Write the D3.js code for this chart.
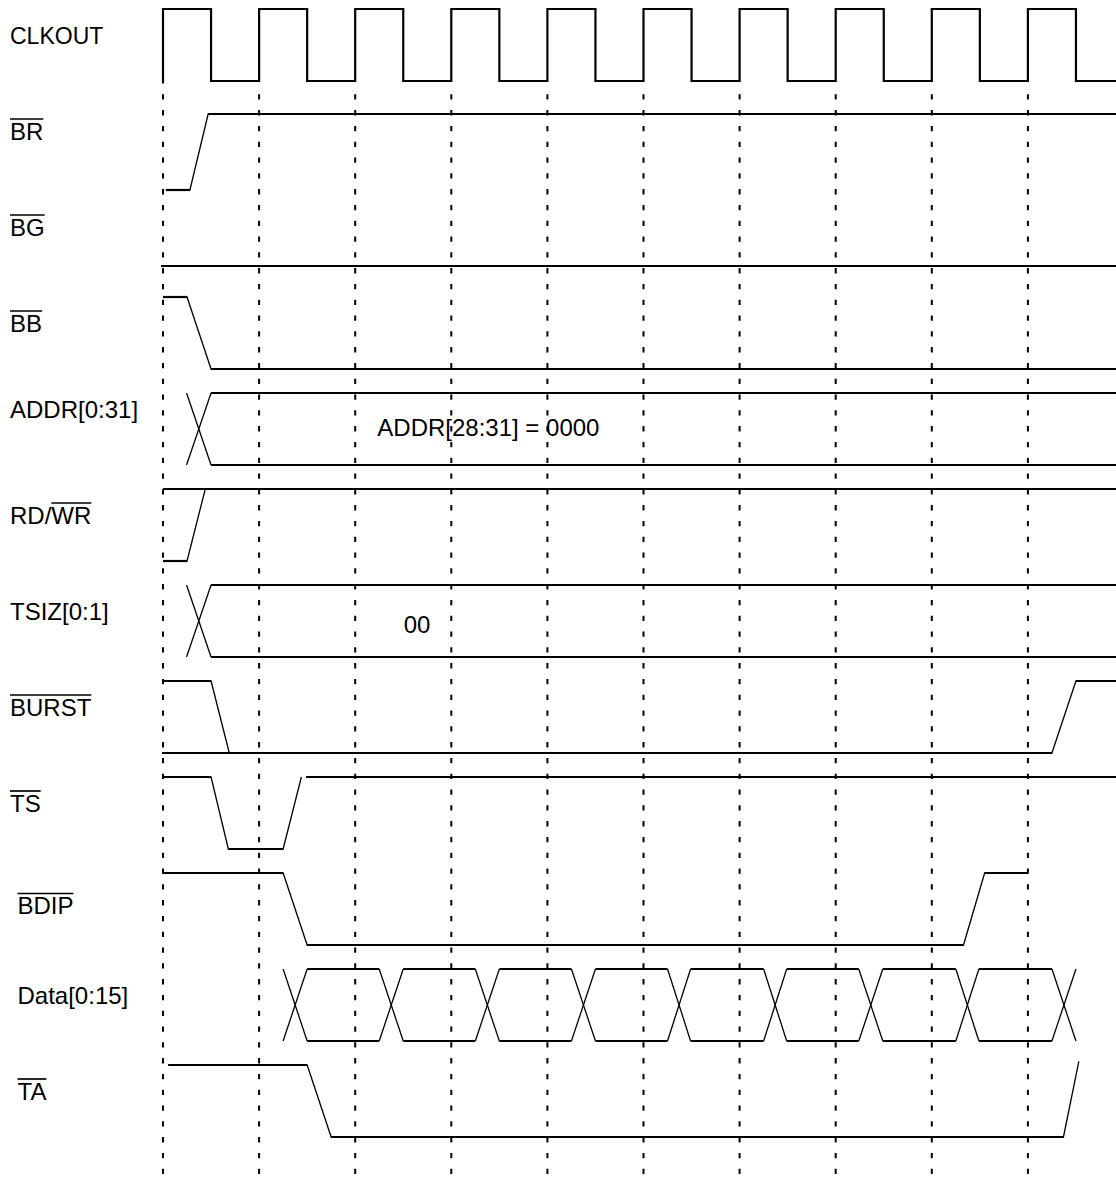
<!DOCTYPE html>
<html><head><meta charset="utf-8">
<script src="https://cdn.jsdelivr.net/npm/d3@7"></script>
<style>body{margin:0;background:#fff} svg{display:block}</style>
</head><body>
<svg id="c" width="1116" height="1177"></svg>
<script>
// ---------- DATA (time in clock cycles, level 1 = high, 0 = low) ----------
const signals = ["CLKOUT","BR","BG","BB","ADDR","RDWR","TSIZ","BURST","TS","BDIP","DATA","TA"];
const labelParts = [
  [{t:"CLKOUT",o:false}],
  [{t:"BR",o:true}],
  [{t:"BG",o:true}],
  [{t:"BB",o:true}],
  [{t:"ADDR[0:31]",o:false}],
  [{t:"RD/",o:false},{t:"WR",o:true}],
  [{t:"TSIZ[0:1]",o:false}],
  [{t:"BURST",o:true}],
  [{t:"TS",o:true}],
  [{t:"BDIP",o:true}],
  [{t:"Data[0:15]",o:false}],
  [{t:"TA",o:true}]
];
const clockRise = [0,1,2,3,4,5,6,7,8,9];
const clockFall = [0.5,1.5,2.5,3.5,4.5,5.5,6.5,7.5,8.5,9.5];
const clockEnd = 10;

const brWave    = [[[0.03,0],[0.28,0],[0.47,1],[10,1]]];
const bgWave    = [[[-0.02,0],[10,0]]];
const bbWave    = [[[0,1],[0.25,1],[0.5,0],[10,0]]];
const rdwrWave  = [[[0,1],[10,1]],[[0,0],[0.25,0],[0.44,1]]];
const burstWave = [[[0,1],[0.5,1],[0.69,0]],[[-0.01,0],[9.25,0],[9.5,1],[10,1]]];
const tsWave    = [[[0,1],[0.5,1],[0.68,0],[1.25,0],[1.44,1]],[[1.49,1],[10,1]]];
const bdipWave  = [[[0,1],[1.25,1],[1.5,0],[8.33,0],[8.55,1],[9,1]]];
const taWave    = [[[0.055,1],[1.5,1],[1.75,0],[9.37,0],[9.53,1.05]]];

const addrTransitions = [[0.245,0.5]];
const addrValid       = [[0.5,10]];
const tsizTransitions = [[0.245,0.5]];
const tsizValid       = [[0.5,10]];
const dataTransitions = [[1.25,1.5],[2.25,2.5],[3.25,3.5],[4.25,4.5],[5.25,5.49],[6.25,6.49],[7.24,7.49],[8.25,8.49],[9.25,9.5]];
const dataValid       = [[1.5,2.25],[2.5,3.25],[3.5,4.25],[4.5,5.25],[5.49,6.25],[6.49,7.24],[7.49,8.25],[8.49,9.25]];

const annotations = [
  {sig:"ADDR", t:2.23, text:"ADDR[28:31] = 0000"},
  {sig:"TSIZ", t:2.505, text:"00"}
];

// ---------- LAYOUT ----------
const W = 1116, H = 1177;
const svg = d3.select("#c");
const x = d3.scaleLinear().domain([0,10]).range([163,1124]);
const row = d3.scalePoint().domain(signals).range([9,1065]);
const rowAdj = {BR:{dy:9,amp:76}, BG:{dy:-7}};
const labelDy = {ADDR:25, BDIP:41};
const labelX = {BDIP:17.5, DATA:17.5, TA:17.5};
const labelSize = {CLKOUT:23};
const annDy = {ADDR:43, TSIZ:48};
const AMP = 72;
function yScale(sig){
  const a = rowAdj[sig] || {};
  const top = row(sig) + (a.dy||0);
  const amp = a.amp || AMP;
  return d3.scaleLinear().domain([0,1]).range([top+amp, top]);
}
const FONT = "'Liberation Sans', Arial, Helvetica, sans-serif";

// dashed clock-edge guides
svg.append("g").selectAll("line").data(clockRise).join("line")
  .attr("x1",d=>x(d)).attr("x2",d=>x(d))
  .attr("y1",94.3).attr("y2",H)
  .attr("stroke","#000").attr("stroke-width",2)
  .attr("stroke-dasharray","5.3 10.5");

// clock
{
  const y = yScale("CLKOUT");
  const pts = [];
  clockRise.forEach((r,i)=>{ pts.push([r,0],[r,1],[clockFall[i],1],[clockFall[i],0]); });
  pts.push([clockEnd,0]);
  svg.append("path")
    .attr("d", d3.line().x(d=>x(d[0])).y(d=>y(d[1]))(pts))
    .attr("fill","none").attr("stroke","#000").attr("stroke-width",2.2)
    .attr("stroke-linejoin","miter");
  // small extension of first edge below low level
  svg.append("line").attr("x1",x(0)).attr("x2",x(0)).attr("y1",y(0)).attr("y2",y(0)+2.5)
    .attr("stroke","#000").attr("stroke-width",2);
}

// level waveforms
const waves = {BR:brWave, BG:bgWave, BB:bbWave, RDWR:rdwrWave, BURST:burstWave, TS:tsWave, BDIP:bdipWave, TA:taWave};
Object.entries(waves).forEach(([sig, polys])=>{
  const y = yScale(sig);
  const g = svg.append("g");
  polys.forEach(p=>{
    g.append("path").attr("d", d3.line().x(d=>x(d[0])).y(d=>y(d[1]))(p))
      .attr("fill","none").attr("stroke","#000").attr("stroke-width",1.3);
    for(let i=0;i<p.length-1;i++){
      if(p[i][1]===p[i+1][1]){
        g.append("line").attr("x1",x(p[i][0])).attr("x2",x(p[i+1][0]))
          .attr("y1",y(p[i][1])).attr("y2",y(p[i][1]))
          .attr("stroke","#000").attr("stroke-width",2.2);
      }
    }
  });
});

// buses
const buses = {ADDR:[addrTransitions,addrValid], TSIZ:[tsizTransitions,tsizValid], DATA:[dataTransitions,dataValid]};
Object.entries(buses).forEach(([sig,[tr,va]])=>{
  const y = yScale(sig);
  const g = svg.append("g");
  tr.forEach(([a,b])=>{
    g.append("line").attr("x1",x(a)).attr("y1",y(1)).attr("x2",x(b)).attr("y2",y(0))
      .attr("stroke","#000").attr("stroke-width",1.3);
    g.append("line").attr("x1",x(a)).attr("y1",y(0)).attr("x2",x(b)).attr("y2",y(1))
      .attr("stroke","#000").attr("stroke-width",1.3);
  });
  va.forEach(([a,b])=>{
    [0,1].forEach(l=>{
      g.append("line").attr("x1",x(a)).attr("x2",x(b)).attr("y1",y(l)).attr("y2",y(l))
        .attr("stroke","#000").attr("stroke-width",2.2);
    });
  });
});

// labels with overlines
signals.forEach((sig,i)=>{
  const base = row(sig) + (labelDy[sig]!==undefined ? labelDy[sig] : 34.5);
  const lx = labelX[sig] || 10;
  const fs = labelSize[sig] || 24;
  const txt = svg.append("text").attr("x",lx).attr("y",base)
    .attr("font-family",FONT).attr("font-size",fs).attr("fill","#000");
  labelParts[i].forEach(p=> txt.append("tspan").text(p.t));
  const node = txt.node();
  let idx = 0;
  labelParts[i].forEach(p=>{
    if(p.o){
      const start = node.getStartPositionOfChar(idx).x;
      const len = node.getSubStringLength(idx, p.t.length);
      svg.append("line").attr("x1",start).attr("x2",start+len)
        .attr("y1",base-20.5).attr("y2",base-20.5)
        .attr("stroke","#000").attr("stroke-width",1.7);
    }
    idx += p.t.length;
  });
});

// annotations
svg.append("g").selectAll("text").data(annotations).join("text")
  .attr("x",d=>x(d.t)).attr("y",d=>row(d.sig)+annDy[d.sig])
  .attr("font-family",FONT).attr("font-size",24).attr("fill","#000")
  .text(d=>d.text);
</script>
</body></html>
